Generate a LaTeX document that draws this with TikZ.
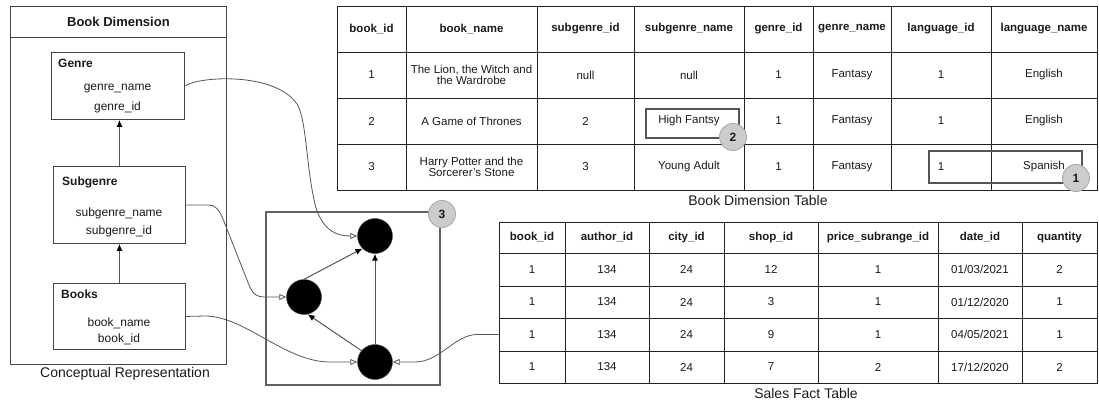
\documentclass[tikz,border=0pt]{standalone}
\usepackage{fontspec}
\setmainfont{Liberation Sans}
\usetikzlibrary{arrows.meta}

\definecolor{rule}{HTML}{222222}
\definecolor{boxline}{HTML}{444444}
\definecolor{wire}{HTML}{555555}
\definecolor{badgefill}{HTML}{CCCCCC}
\definecolor{badgeline}{HTML}{AAAAAA}
\definecolor{ink}{HTML}{1A1A1A}

\newcommand{\fsz}[1]{\fontsize{#1}{#1}\selectfont}

\begin{document}
\begin{tikzpicture}[x=1pt,y=-1pt,
  cell/.style={draw=rule, line width=0.8pt, inner sep=0pt, align=center,
    text=ink, font=\fsz{11.5}},
  hcell/.style={cell, font=\fsz{11.5}\bfseries},
  frame/.style={draw=boxline, line width=0.9pt, inner sep=0pt, anchor=north west},
  label/.style={inner sep=0pt, text=ink, font=\fsz{12}},
  boxtitle/.style={inner sep=0pt, text=ink, font=\fsz{12}\bfseries, anchor=west},
  caption/.style={inner sep=0pt, text=ink, font=\fsz{14}},
  dot/.style={circle, fill=black, draw=black!70, minimum size=35pt, inner sep=0pt},
  badge/.style={circle, fill=badgefill, draw=badgeline, line width=0.9pt,
    minimum size=27pt, inner sep=0pt, text=ink, font=\fsz{12}\bfseries},
  mark box/.style={draw=wire, line width=1.7pt, inner sep=0pt, anchor=north west},
  link/.style={draw=wire, line width=0.8pt,
    -{Triangle[open, length=7pt, width=6pt, line width=0.8pt]}},
  uplink/.style={draw=wire, line width=1pt,
    -{Latex[length=7pt, width=6pt, color=black]}}
]
\useasboundingbox (0,0) rectangle (1099,403);

% ---------- conceptual representation ----------
\node[frame, minimum width=216pt, minimum height=358pt] (bd) at (10,6) {};
\node[frame, minimum width=216pt, minimum height=31pt,
      font=\fsz{13}\bfseries, text=ink] (bdtitle) at (10,6) {Book Dimension};

\node[frame, minimum width=133pt, minimum height=67pt] (genre) at (51,52) {};
\node[boxtitle] (genreT) at (58,63) {Genre};
\node[label] (genreA) at (117.5,89) {genre\_name};
\node[label] (genreB) at (117.5,107) {genre\_id};

\node[frame, minimum width=132pt, minimum height=77pt] (sub) at (53,166) {};
\node[boxtitle] (subT) at (62,182) {Subgenre};
\node[label] (subA) at (119,213) {subgenre\_name};
\node[label] (subB) at (119,231) {subgenre\_id};

\node[frame, minimum width=132pt, minimum height=66pt] (books) at (53,283) {};
\node[boxtitle] (booksT) at (61,294) {Books};
\node[label] (booksA) at (119,323) {book\_name};
\node[label] (booksB) at (119,339) {book\_id};

\draw[uplink] (books.north) -- (sub.south);
\draw[uplink] (sub.north) -- (genre.south -| sub.north);

\node[caption] (bdcap) at (125,374) {Conceptual Representation};

% ---------- hierarchy graph ----------
\node[anchor=north west, draw=black!62, line width=1.9pt, inner sep=0pt,
      minimum width=174pt, minimum height=173pt] (graph) at (265,211) {};
\node[dot] (tc) at (375,236) {};
\node[dot] (lc) at (304,297) {};
\node[dot] (bc) at (375,362) {};
\node[badge] (b3) at (442,214) {3};

\draw[uplink] (lc.north) -- (tc.225);
\draw[uplink] (bc.140) -- (lc.-78);
\draw[uplink] (bc.north) -- (tc.south);

% ---------- book dimension table ----------
\foreach \xa/\xb/\txt [count=\c] in {337/406/book\_id, 406/537/book\_name,
    537/634/subgenre\_id, 634/744/subgenre\_name, 744/813/genre\_id,
    813/891/genre\_name, 891/991/language\_id, 991/1097/language\_name}
  \node[hcell, minimum width={(\xb-\xa)*1pt}, minimum height=46pt]
    (bh-\c) at ({(\xa+\xb)/2},29) {\txt};

\foreach \xa/\xb/\txt [count=\c] in {337/406/1,
    406/537/{The Lion, the Witch and\\the Wardrobe},
    537/634/null, 634/744/null, 744/813/1, 813/891/Fantasy, 891/991/1,
    991/1097/English}
  \node[cell, minimum width={(\xb-\xa)*1pt}, minimum height=46pt]
    (b1-\c) at ({(\xa+\xb)/2},75) {\txt};

\foreach \xa/\xb/\txt [count=\c] in {337/406/2, 406/537/A Game of Thrones,
    537/634/2, 634/744/High Fantsy, 744/813/1, 813/891/Fantasy, 891/991/1,
    991/1097/English}
  \node[cell, minimum width={(\xb-\xa)*1pt}, minimum height=46pt]
    (b2-\c) at ({(\xa+\xb)/2},121) {\txt};

\foreach \xa/\xb/\txt [count=\c] in {337/406/3,
    406/537/{Harry Potter and the\\Sorcerer's Stone},
    537/634/3, 634/744/Young Adult, 744/813/1, 813/891/Fantasy, 891/991/1,
    991/1097/Spanish}
  \node[cell, minimum width={(\xb-\xa)*1pt}, minimum height=46pt]
    (b3-\c) at ({(\xa+\xb)/2},167) {\txt};

\node[caption] (bdtcap) at (758,200) {Book Dimension Table};

\node[mark box, minimum width=93pt, minimum height=29pt] (hf) at (645,108) {};
\node[badge] (b2) at (733,137) {2};
\node[mark box, minimum width=153pt, minimum height=32pt] (sp) at (928,150) {};
\node[badge] (b1) at (1076,178) {1};

% ---------- sales fact table ----------
\foreach \xa/\xb/\txt [count=\c] in {499/565/book\_id, 565/649/author\_id,
    649/724/city\_id, 724/818/shop\_id, 818/938/price\_subrange\_id,
    938/1022/date\_id, 1022/1097/quantity}
  \node[hcell, minimum width={(\xb-\xa)*1pt}, minimum height=31pt]
    (sh-\c) at ({(\xa+\xb)/2},237.5) {\txt};

\foreach \ya/\yb/\shop/\price/\date/\qty [count=\r] in {
    253/286/12/1/01\slash 03\slash 2021/2,
    286/318/3/1/01\slash 12\slash 2020/1,
    318/351/9/1/04\slash 05\slash 2021/1,
    351/383/7/2/17\slash 12\slash 2020/2}
  \foreach \xa/\xb/\txt [count=\c] in {499/565/1, 565/649/134, 649/724/24,
      724/818/\shop, 818/938/\price, 938/1022/\date, 1022/1097/\qty}
    \node[cell, minimum width={(\xb-\xa)*1pt},
          minimum height={(\yb-\ya)*1pt}]
      (s\r-\c) at ({(\xa+\xb)/2},{(\ya+\yb)/2}) {\txt};

\node[caption] (sftcap) at (806,393) {Sales Fact Table};

% ---------- connectors into the graph ----------
\draw[link] (genre.east) .. controls (200,76) and (275,72) .. (297,104)
  .. controls (307,120) and (306,170) .. (316,208)
  .. controls (324,232) and (338,236) .. (tc.west);
\draw[link] (sub.east) -- (208,205) .. controls (216,205) and (219,210) .. (223,219)
  -- (249,285) .. controls (253,295) and (258,297) .. (264,297) -- (lc.west);
\draw[link] (books.east) -- (205,316) .. controls (245,316) and (285,362)
  .. (330,362) -- (bc.west);
\draw[link] (s3-1.west) -- (477,334.5) .. controls (455,334.5) and (440,362)
  .. (415,362) -- (bc.east);
\end{tikzpicture}
\end{document}
